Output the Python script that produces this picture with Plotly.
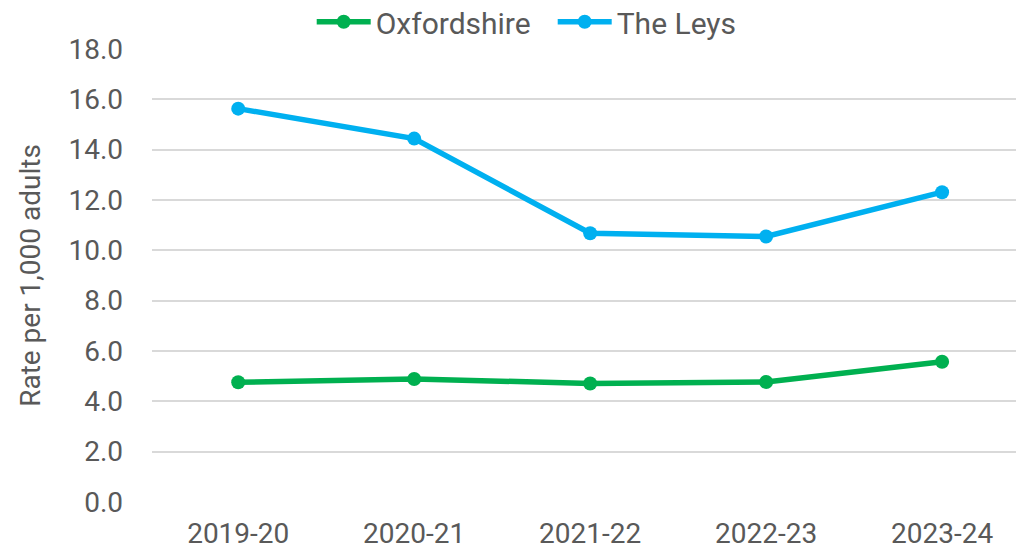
import plotly.graph_objects as go

years = ["2019-20", "2020-21", "2021-22", "2022-23", "2023-24"]
oxfordshire = [4.76, 4.89, 4.71, 4.77, 5.57]
the_leys = [15.63, 14.44, 10.68, 10.55, 12.31]
y_ticks = [0, 2, 4, 6, 8, 10, 12, 14, 16, 18]
y_tick_text = [f"{v:.1f}" for v in y_ticks]

FONT = "Roboto"
TXT = "#595959"

fig = go.Figure()
fig.add_trace(go.Scatter(
    x=list(range(len(years))), y=oxfordshire, name="Oxfordshire", mode="lines+markers",
    line=dict(color="#00B050", width=5.5), marker=dict(size=14, color="#00B050")))
fig.add_trace(go.Scatter(
    x=list(range(len(years))), y=the_leys, name="The Leys", mode="lines+markers",
    line=dict(color="#00B0F0", width=5.5), marker=dict(size=14, color="#00B0F0")))

fig.update_layout(
    width=1016, height=557,
    margin=dict(l=152, r=0, t=49, b=55, autoexpand=False),
    paper_bgcolor="white", plot_bgcolor="white",
    font=dict(family=FONT, size=28, color=TXT),
    showlegend=True,
    legend=dict(orientation="h", xref="container", x=0.544, xanchor="center",
                yref="paper", y=1.06, yanchor="middle", entrywidth=172,
                font=dict(family=FONT, size=30, color=TXT), itemwidth=54),
    xaxis=dict(tickmode="array", tickvals=list(range(len(years))), ticktext=years,
               range=[-0.49, 4.42], showgrid=False, zeroline=False, showline=False,
               ticks="", ticklabelstandoff=12, tickfont=dict(family=FONT, size=28, color=TXT)),
    yaxis=dict(range=[0, 18], tickmode="array", tickvals=y_ticks, ticktext=y_tick_text,
               showgrid=True, gridcolor="#D9D9D9", gridwidth=1.5, zeroline=False,
               showline=False, ticks="", ticklabelstandoff=28,
               tickfont=dict(family=FONT, size=28, color=TXT),
               title=dict(text="Rate per 1,000 adults", standoff=19,
                          font=dict(family=FONT, size=28, color=TXT))),
)

fig.write_html("out.html", config={"displayModeBar": False},
               post_script="document.body.style.margin='0';")
